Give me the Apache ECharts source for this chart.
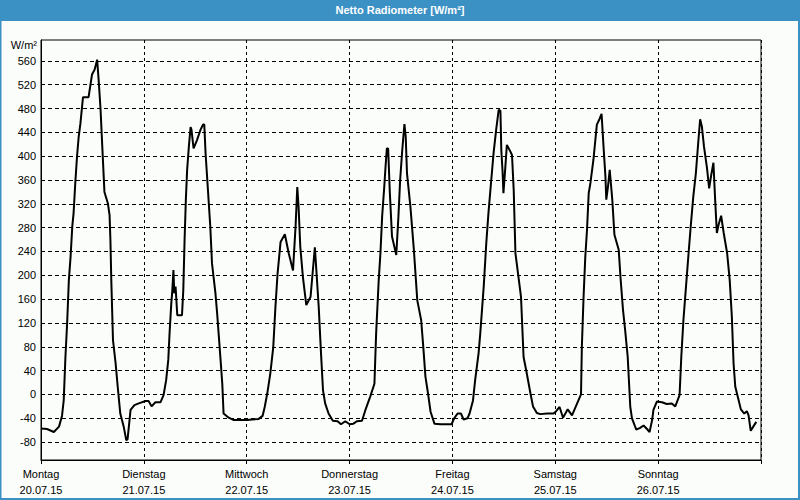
<!DOCTYPE html>
<html>
<head>
<meta charset="utf-8">
<script src="https://cdn.jsdelivr.net/npm/echarts@6/dist/echarts.min.js"></script>
<style>
html,body{margin:0;padding:0;background:#fbfdfb;}
#chart{width:800px;height:500px;}
</style>
</head>
<body>
<div id="chart"></div>
<script>
// Hours since Monday 20.07.15 00:00
const hours = [
0,1.4,3.0,4.2,4.9,5.3,5.7,6.1,6.5,6.9,7.3,7.6,8.0,8.4,8.8,9.2,9.8,11.1,11.9,12.5,13.1,13.5,13.9,14.3,14.8,15.6,16.0,16.2,16.4,16.8,17.4,17.9,18.5,19.3,19.9,20.2,20.9,21.8,22.8,
24.4,25.1,25.8,26.7,27.9,28.6,29.2,29.7,30.0,30.4,30.6,30.9,31.1,31.4,31.8,32.9,33.2,33.5,33.8,34.1,34.5,34.9,35.1,35.6,36.4,37.2,37.8,38.1,38.4,38.9,39.5,39.9,40.7,41.1,41.5,41.9,42.3,42.6,43.8,45.0,
48.1,49.3,50.8,51.7,52.2,52.8,53.5,54.2,54.7,55.2,55.9,56.9,57.8,58.8,59.4,59.8,60.1,60.5,61.1,61.9,62.9,63.5,63.9,64.2,64.8,65.3,65.8,66.3,67.1,68.1,69.2,70.0,71.0,
72.0,72.9,73.7,74.9,75.7,76.8,77.8,78.2,78.8,79.2,79.6,80.1,80.4,80.7,81.0,81.4,81.9,82.9,83.4,83.8,84.3,84.8,85.1,85.4,86.2,87.0,87.8,88.7,89.2,89.7,90.3,90.9,91.8,93.2,94.7,
95.8,96.4,97.2,98.0,98.6,99.5,100.0,100.8,101.3,102.1,102.5,103.3,103.9,104.4,105.0,105.6,106.2,106.8,107.2,107.4,107.7,107.9,108.3,108.7,109.5,109.9,110.3,110.7,111.4,112.0,112.6,113.2,114.2,114.8,115.7,116.5,118.1,
119.6,120.2,121.0,121.8,122.9,123.9,125.1,126.0,126.2,126.6,127.0,127.4,127.8,128.2,128.9,129.7,130.3,130.8,131.3,131.7,131.9,132.3,132.7,133.0,133.3,133.8,134.8,135.2,135.8,136.3,136.9,137.5,137.9,138.9,139.8,140.6,141.4,142.0,142.6,142.9,
143.7,144.9,146.0,147.2,148.0,149.0,149.4,149.9,150.5,151.1,151.6,152.2,152.8,153.4,153.8,154.2,154.7,155.4,155.9,156.4,156.9,157.3,157.7,158.1,158.7,159.3,160.1,160.7,161.2,161.6,162.0,162.8,163.3,164.1,164.7,165.1,165.6,166.2,166.9
];
const wm2 = [
-57,-58,-63,-54,-36,-10,63,120,192,231,282,304,355,399,433,455,499,499,537,545,562,523,478,416,340,321,301,259,192,91,53,13,-32,-54,-77,-75,-26,-18,-15,
-11,-11,-20,-13,-13,-1,24,58,103,153,170,209,170,181,133,133,175,259,327,377,416,449,445,413,427,444,453,453,405,349,282,220,170,136,97,58,18,-32,-39,-43,
-43,-42,-41,-36,-21,2,35,80,147,203,256,269,237,208,282,348,315,248,198,150,164,214,247,214,147,74,7,-15,-32,-44,-45,-50,-45,
-50,-49,-45,-44,-26,-4,18,103,192,237,299,349,383,413,413,338,265,234,299,360,411,454,433,371,315,243,158,125,80,30,2,-29,-49,-50,-50,
-50,-40,-32,-32,-42,-40,-32,-10,24,69,103,181,254,304,355,405,444,478,476,411,374,338,377,419,408,402,343,237,198,164,63,41,2,-20,-31,-33,-32,
-32,-28,-21,-39,-25,-35,-15,0,80,164,231,276,338,355,394,453,462,471,411,366,327,349,377,352,327,268,243,198,142,108,63,-21,-40,-59,-56,-52,-58,-63,-43,-26,
-12,-13,-16,-15,-20,-1,63,125,181,237,282,332,371,427,462,450,416,380,346,369,389,327,271,285,300,271,237,192,130,52,13,-10,-25,-32,-28,-35,-61,-54,-46
];
const dayNames = ['Montag','Dienstag','Mittwoch','Donnerstag','Freitag','Samstag','Sonntag'];
const dayDates = ['20.07.15','21.07.15','22.07.15','23.07.15','24.07.15','25.07.15','26.07.15'];
const yTicks = [-80,-40,0,40,80,120,160,200,240,280,320,360,400,440,480,520,560];

const seriesData = hours.map((h, i) => [h, wm2[i]]);
const chart = echarts.init(document.getElementById('chart'), null, {renderer: 'svg'});
const BLUE = '#3b91c4';
chart.setOption({
  backgroundColor: '#fbfdfb',
  animation: false,
  graphic: [
    {type: 'rect', z: 0, shape: {x: 0, y: 0, width: 800, height: 21}, style: {fill: BLUE}},
    {type: 'rect', z: 0, shape: {x: 0.5, y: 0.5, width: 798.5, height: 498.5}, style: {fill: 'none', stroke: BLUE, lineWidth: 2}}
  ],
  title: {
    text: 'Netto Radiometer [W/m²]',
    left: 'center',
    top: 4,
    padding: 0,
    textStyle: {color: '#ffffff', fontWeight: 'bold', fontSize: 11, fontFamily: 'Liberation Sans'}
  },
  grid: {left: 41, right: 39, top: 40, bottom: 40, show: true, borderColor: '#000', borderWidth: 1, backgroundColor: 'transparent'},
  xAxis: {
    type: 'value',
    min: 0, max: 168, interval: 24,
    axisLine: {show: true, onZero: false, lineStyle: {color: '#000', width: 1}},
    axisTick: {show: true, length: 4, lineStyle: {color: '#000'}},
    axisLabel: {
      color: '#000', fontFamily: 'Liberation Sans', fontSize: 11, lineHeight: 16, margin: 6,
      formatter: v => { const i = Math.round(v / 24); return i < dayNames.length ? dayNames[i] + '\n' + dayDates[i] : ''; }
    },
    splitLine: {show: true, lineStyle: {color: '#000', type: [3, 3], width: 1}}
  },
  yAxis: {
    type: 'value',
    min: -110, max: 595,
    name: 'W/m²',
    nameLocation: 'end',
    nameGap: -5,
    nameTextStyle: {color: '#000', fontFamily: 'Liberation Sans', fontSize: 11, align: 'right', verticalAlign: 'middle', padding: [0, 4, 0, 0]},
    axisLine: {show: true, lineStyle: {color: '#000', width: 1}},
    axisTick: {show: false, customValues: yTicks},
    axisLabel: {color: '#000', fontFamily: 'Liberation Sans', fontSize: 11, margin: 5, customValues: yTicks},
    splitLine: {show: true, lineStyle: {color: '#000', type: [4, 3], width: 1}}
  },
  series: [{
    type: 'line',
    data: seriesData,
    showSymbol: false,
    symbol: 'none',
    lineStyle: {color: '#000', width: 2},
    clip: true
  }]
});
</script>
</body>
</html>
